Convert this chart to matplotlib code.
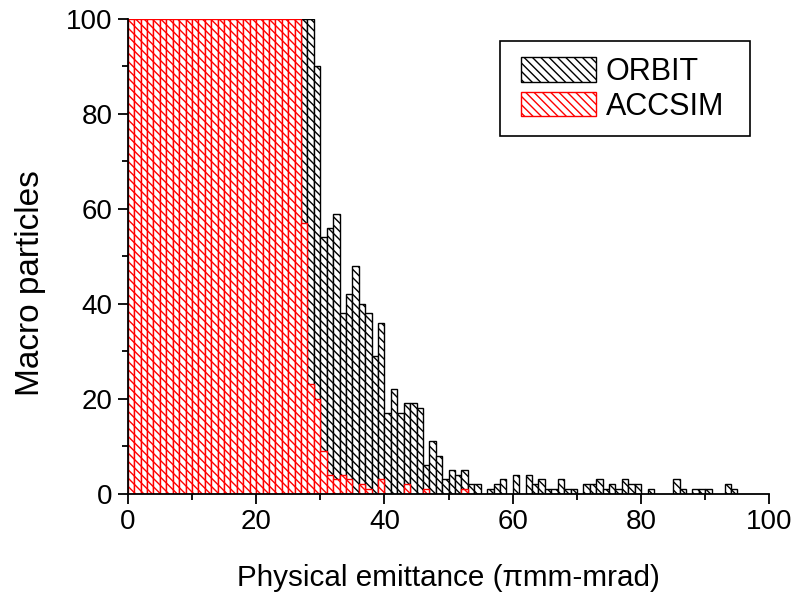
import numpy as np
import matplotlib
matplotlib.use("Agg")
import matplotlib.pyplot as plt
from matplotlib.patches import Rectangle

plt.rcParams['font.family'] = ['Liberation Sans', 'DejaVu Sans']
plt.rcParams['hatch.linewidth'] = 1.0

# Histogram bin edges (physical emittance, pi mm-mrad), bin width 1
bin_edges = np.arange(0, 96, 1)

# ORBIT counts per bin (bins 0-28 are off-scale, shown at the 100 limit)
orbit_counts = [100] * 29 + [
    90, 54, 56, 59, 38, 42, 48, 40, 38, 29,   # 29-38
    36, 17, 22, 17, 19, 19, 18, 6, 11, 8,     # 39-48
    3, 5, 4, 5, 2, 2, 0, 1, 2, 3,             # 49-58
    0, 4, 0, 4, 2, 3, 1, 1, 3, 1,             # 59-68
    1, 0, 2, 2, 3, 1, 2, 1, 3, 2,             # 69-78
    2, 0, 1, 0, 0, 0, 3, 1, 0, 1,             # 79-88
    1, 1, 0, 0, 2, 1,                         # 89-94
]

# ACCSIM counts per bin (bins 0-26 are off-scale, shown at the 100 limit)
accsim_counts = [100] * 27 + [
    57, 23, 20, 9, 4, 3, 4, 3, 0, 2,          # 27-36
    1, 0, 3, 0, 0, 0, 2, 0, 0, 1,             # 37-46
    0, 0, 0, 0, 0, 1,                         # 47-52
] + [0] * 42

series_labels = ["ORBIT", "ACCSIM"]
x_ticks = [0, 20, 40, 60, 80, 100]
y_ticks = [0, 20, 40, 60, 80, 100]

fig = plt.figure(figsize=(8.04, 5.93), dpi=100)
ax = fig.add_axes([0.159, 0.1675, 0.798, 0.8005])

left = bin_edges[:-1]
orbit = np.array(orbit_counts, dtype=float)
accsim = np.array(accsim_counts, dtype=float)

m1 = orbit > 0
ax.bar(left[m1], orbit[m1], width=1.0, align='edge', facecolor='white',
       edgecolor='black', hatch='\\\\\\\\', linewidth=1.0, label=series_labels[0], zorder=1)
m2 = accsim > 0
ax.bar(left[m2], accsim[m2], width=1.0, align='edge', facecolor='white',
       edgecolor='red', hatch='\\\\\\\\', linewidth=1.0, label=series_labels[1], zorder=1.1)

ax.set_xlim(0, 100)
ax.set_ylim(0, 100)
ax.set_xticks(x_ticks)
ax.set_yticks(y_ticks)
ax.set_xticks(np.arange(10, 100, 20), minor=True)
ax.set_yticks(np.arange(10, 100, 20), minor=True)

for s in ['top', 'right']:
    ax.spines[s].set_visible(False)
for s in ['left', 'bottom']:
    ax.spines[s].set_linewidth(1.3)

ax.tick_params(which='major', direction='out', length=7, width=1.3, labelsize=20, pad=4)
ax.tick_params(which='minor', direction='out', length=4.3, width=1.3)

ax.set_xlabel("Physical emittance (\u03c0mm-mrad)", fontsize=21.3)
ax.set_ylabel("Macro particles", fontsize=24)
ax.xaxis.set_label_coords(0.5, -0.148)
ax.yaxis.set_label_coords(-0.128, 0.444)

# Legend box frame (drawn separately to match the reference's padding)
W, H = 804.0, 593.0
fig.add_artist(Rectangle((500 / W, 1 - 136 / H), 250 / W, 95 / H,
                         transform=fig.transFigure, fill=False,
                         edgecolor='black', linewidth=1.2, zorder=5))
leg = ax.legend(loc='upper left', bbox_to_anchor=(521 / W, 1 - 57 / H),
                bbox_transform=fig.transFigure, fontsize=22,
                frameon=False, handlelength=2.45, handleheight=0.85,
                labelspacing=0.15, handletextpad=0.33, borderpad=0,
                borderaxespad=0)

fig.savefig("out.png", dpi=100)
